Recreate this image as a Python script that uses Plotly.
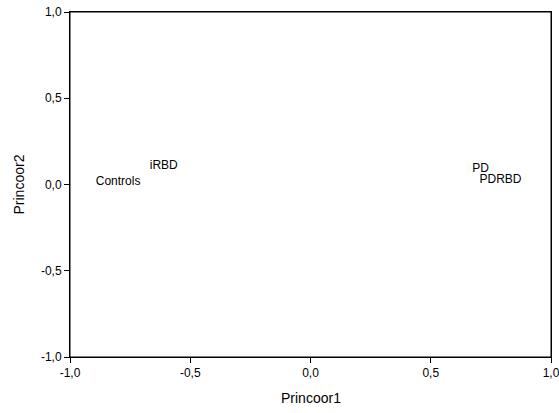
import plotly.graph_objects as go

groups = ["Controls", "iRBD", "PD", "PDRBD"]
princoor1 = [-0.80, -0.61, 0.707, 0.79]
princoor2 = [0.013, 0.11, 0.091, 0.027]

tick_vals = [-1.0, -0.5, 0.0, 0.5, 1.0]
tick_text = ["-1,0", "-0,5", "0,0", "0,5", "1,0"]

FONT = "Liberation Sans, Arial"

fig = go.Figure()
fig.add_trace(go.Scatter(
    x=princoor1, y=princoor2, text=groups, mode="text",
    textposition="middle center",
    textfont=dict(family=FONT, size=12, color="black"),
    showlegend=False, hoverinfo="text",
))

axis_common = dict(
    tickvals=tick_vals, ticktext=tick_text,
    ticks="outside", ticklen=5, tickwidth=1, tickcolor="black",
    showline=True, linecolor="black", linewidth=1, mirror=True,
    showgrid=False, zeroline=False, automargin=False,
    ticklabeloverflow="allow",
    tickfont=dict(family=FONT, size=12, color="black"),
)

fig.update_layout(
    width=559, height=413,
    margin=dict(l=70, r=8, t=12, b=56),
    paper_bgcolor="white", plot_bgcolor="white",
    xaxis=dict(range=[-1, 1], **axis_common),
    yaxis=dict(range=[-1, 1], **axis_common),
    shapes=[dict(type="rect", xref="paper", yref="paper", x0=0, x1=1, y0=0, y1=1,
                 line=dict(color="black", width=1), layer="above")],
    annotations=[
        dict(text="Princoor1", xref="paper", yref="paper", x=0.5, y=0,
             yshift=-41, yanchor="middle", xanchor="center", showarrow=False,
             font=dict(family=FONT, size=14, color="black")),
        dict(text="Princoor2", xref="paper", yref="paper", x=0, y=0.5,
             xshift=-52, xanchor="center", yanchor="middle", textangle=-90,
             showarrow=False, font=dict(family=FONT, size=14, color="black")),
    ],
)
fig.write_html(
    "out.html",
    config={"displayModeBar": False},
    post_script="document.body.style.margin='0';document.body.style.overflow='hidden';",
)
